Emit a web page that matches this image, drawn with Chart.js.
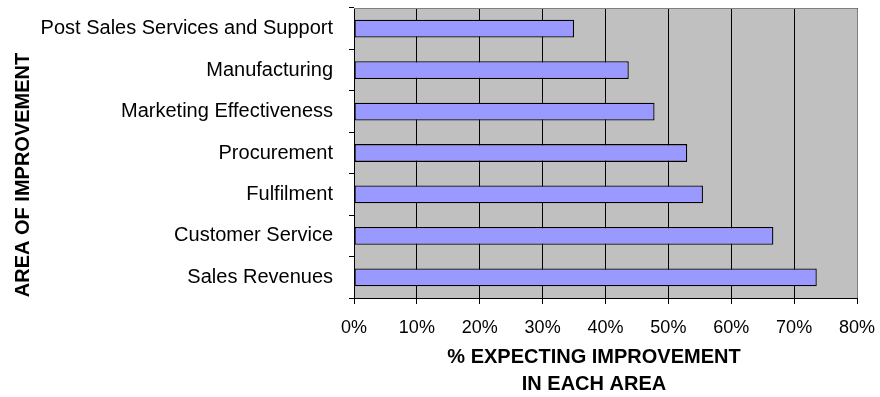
<!DOCTYPE html>
<html>
<head>
<meta charset="utf-8">
<script src="https://cdn.jsdelivr.net/npm/chart.js@4.4.1/dist/chart.umd.min.js"></script>
<style>
  html, body { margin: 0; padding: 0; background: #fff; }
  #wrap { width: 880px; height: 397px; position: relative; }
</style>
</head>
<body>
<div id="wrap"><canvas id="chart"></canvas></div>
<script>
// areas, top to bottom as in the picture
const areas = [
  "Post Sales Services and Support",
  "Manufacturing",
  "Marketing Effectiveness",
  "Procurement",
  "Fulfilment",
  "Customer Service",
  "Sales Revenues"
];
// % expecting improvement
const pctExpecting = [35, 43.7, 47.8, 53, 55.5, 66.7, 73.6];
const xTicks = [0, 10, 20, 30, 40, 50, 60, 70, 80];
const yTitle = "AREA OF IMPROVEMENT";
const xTitle = ["% EXPECTING IMPROVEMENT", "IN EACH AREA"];

const FONT = "'Liberation Sans', Arial, sans-serif";

// grey plot background + grey frame on top / right
const plotBg = {
  id: "plotBg",
  beforeDraw(chart) {
    const { ctx, chartArea: a } = chart;
    ctx.save();
    ctx.fillStyle = "#C0C0C0";
    ctx.fillRect(a.left, a.top, a.right - a.left, a.bottom - a.top);
    ctx.restore();
  },
  afterDatasetsDraw(chart) {
    const { ctx, chartArea: a } = chart;
    ctx.save();
    ctx.strokeStyle = "#808080";
    ctx.lineWidth = 1;
    ctx.beginPath();
    ctx.moveTo(a.left, a.top + 0.5);
    ctx.lineTo(a.right + 0.5, a.top + 0.5);
    ctx.lineTo(a.right + 0.5, a.bottom);
    ctx.stroke();
    ctx.restore();
  }
};

// axis titles, placed like the original
const axisTitles = {
  id: "axisTitles",
  afterDraw(chart) {
    const { ctx } = chart;
    ctx.save();
    ctx.fillStyle = "#000";
    ctx.font = "bold 20px " + FONT;
    ctx.textAlign = "center";
    ctx.textBaseline = "middle";
    ctx.fillText(xTitle[0], 594, 357);
    ctx.fillText(xTitle[1], 594, 384);
    ctx.translate(23, 175);
    ctx.rotate(-Math.PI / 2);
    ctx.fillText(yTitle, 0, 0);
    ctx.restore();
  }
};

new Chart(document.getElementById("chart"), {
  type: "bar",
  data: {
    labels: areas,
    datasets: [{
      data: pctExpecting,
      backgroundColor: "#9999FF",
      borderColor: "#000000",
      borderWidth: 1.3,
      borderSkipped: false,
      categoryPercentage: 0.86,
      barPercentage: 0.5
    }]
  },
  options: {
    indexAxis: "y",
    responsive: true,
    maintainAspectRatio: false,
    animation: false,
    layout: { padding: { left: 0, right: 23, top: 8, bottom: 0 } },
    plugins: {
      legend: { display: false },
      tooltip: { enabled: false }
    },
    scales: {
      x: {
        min: xTicks[0],
        max: xTicks[xTicks.length - 1],
        afterBuildTicks(scale) {
          scale.ticks = xTicks.map(v => ({ value: v }));
        },
        afterFit(scale) {
          scale.height = 99;
          scale.paddingLeft = 0;
          scale.paddingRight = 0;
        },
        ticks: {
          color: "#000",
          font: { family: FONT, size: 18 },
          padding: 13,
          maxRotation: 0,
          callback: v => v + "%"
        },
        grid: {
          color: "#000",
          lineWidth: 1,
          tickLength: 6,
          drawTicks: true
        },
        border: { display: true, color: "#000", width: 1 }
      },
      y: {
        afterFit(scale) {
          scale.width = 354;
          scale.paddingTop = 0;
          scale.paddingBottom = 0;
        },
        ticks: {
          color: "#000",
          font: { family: FONT, size: 20 },
          padding: 16
        },
        grid: {
          offset: true,
          drawOnChartArea: false,
          color: "#000",
          tickLength: 5
        },
        border: { display: true, color: "#000", width: 1 }
      }
    }
  },
  plugins: [plotBg, axisTitles]
});
</script>
</body>
</html>
